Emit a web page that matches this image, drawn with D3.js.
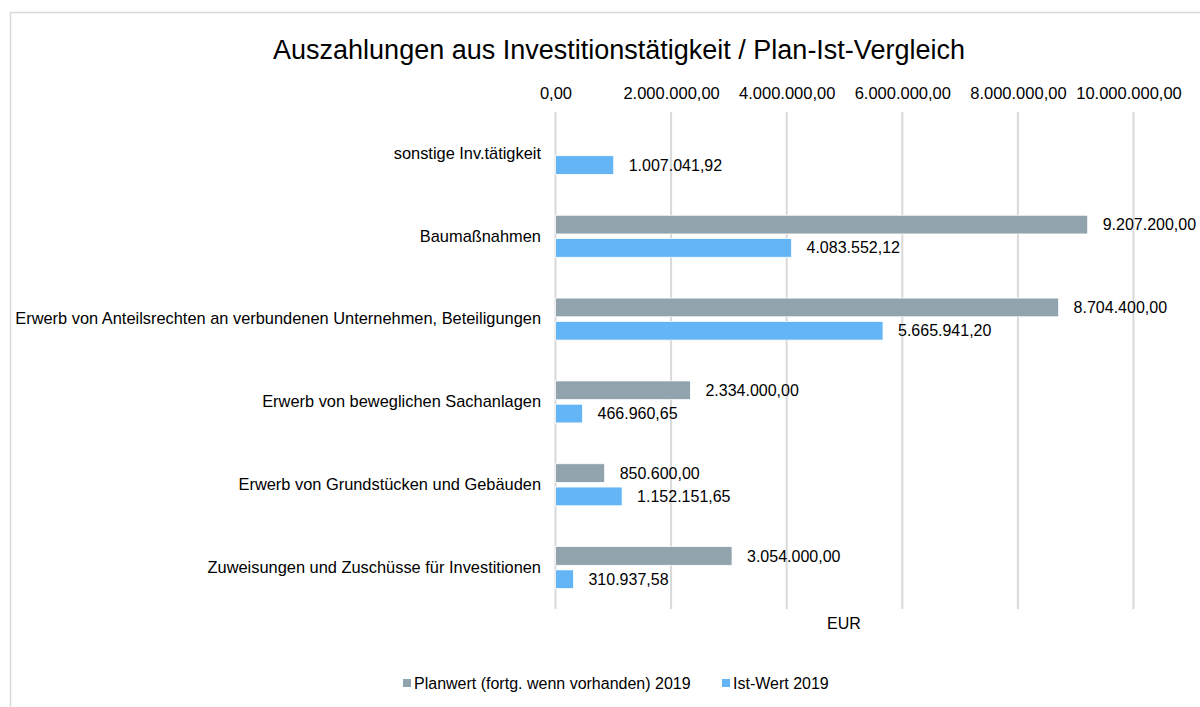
<!DOCTYPE html>
<html><head><meta charset="utf-8">
<script src="https://cdn.jsdelivr.net/npm/d3@7"></script>
<style>body{margin:0;background:#fff;} svg{display:block;font-family:"Liberation Sans",Arial,sans-serif;}</style>
</head><body>
<svg id="chart" width="1200" height="707"></svg>
<script>
const categories = ["sonstige Inv.tätigkeit","Baumaßnahmen","Erwerb von Anteilsrechten an verbundenen Unternehmen, Beteiligungen","Erwerb von beweglichen Sachanlagen","Erwerb von Grundstücken und Gebäuden","Zuweisungen und Zuschüsse für Investitionen"];
const seriesNames = ["Planwert (fortg. wenn vorhanden) 2019","Ist-Wert 2019"];
const planValues = [null, 9207200.00, 8704400.00, 2334000.00, 850600.00, 3054000.00];
const istValues = [1007041.92, 4083552.12, 5665941.20, 466960.65, 1152151.65, 310937.58];
const xTicks = [0, 2000000, 4000000, 6000000, 8000000, 10000000];
const colors = ["#91A4AD", "#64B5F6"];

const loc = d3.formatLocale({decimal: ",", thousands: ".", grouping: [3], currency: ["", " €"]});
const fmt = loc.format(",.2f");
const FS = 16;

const svg = d3.select("#chart");
svg.append("rect").attr("x",10.5).attr("y",12.5).attr("width",1200).attr("height",720)
  .attr("fill","#fff").attr("stroke","#d9d9d9").attr("stroke-width",1.5);

const x = d3.scaleLinear().domain([0, 10000000]).range([555.5, 1133.5]);
const y = d3.scaleBand().domain(categories).range([112, 609]).padding(0);
const inner = d3.scaleBand().domain([0,1]).range([y.bandwidth()/2 - 21, y.bandwidth()/2 + 21]).paddingInner(0.197);

svg.append("text").attr("x", 619).attr("y", 50).attr("dy","0.35em").attr("text-anchor","middle")
  .attr("font-size", 27).attr("fill","#000").text("Auszahlungen aus Investitionstätigkeit / Plan-Ist-Vergleich");

// gridlines
svg.append("g").selectAll("line").data(xTicks).join("line")
  .attr("x1", d=>x(d)).attr("x2", d=>x(d)).attr("y1", 112).attr("y2", 609)
  .attr("stroke", "#d9d9d9").attr("stroke-width", 2);

// top axis labels
const ax = svg.append("g").attr("transform","translate(0,93)")
  .call(d3.axisTop(x).tickValues(xTicks).tickFormat(fmt).tickSize(0).tickPadding(0));
ax.select(".domain").remove();
ax.selectAll("text").attr("font-size", 16.5).attr("fill","#000").attr("font-family","Liberation Sans, Arial, sans-serif")
  .attr("dy","0.35em")
  .attr("dx", d => d === 10000000 ? -5 : 0);

// category labels
const ay = svg.append("g").attr("transform","translate(555,0)")
  .call(d3.axisLeft(y).tickSize(0).tickPadding(14));
ay.select(".domain").remove();
ay.selectAll("text").attr("font-size", 16.4).attr("fill","#000").attr("font-family","Liberation Sans, Arial, sans-serif")
  .attr("dy","0.32em");

const rows = categories.map((c,i)=>({c, vals:[planValues[i], istValues[i]]}));
const g = svg.append("g");
rows.forEach(r=>{
  r.vals.forEach((v,k)=>{
    if (v === null) return;
    const yy = y(r.c) + inner(k);
    g.append("rect").attr("x", x(0)).attr("y", yy).attr("width", x(v)-x(0)).attr("height", inner.bandwidth())
      .attr("fill", colors[k]).attr("stroke","#fff").attr("stroke-width",0.75);
    g.append("text").attr("x", x(v)+15).attr("y", yy + inner.bandwidth()/2).attr("dy","0.35em")
      .attr("font-size", FS).attr("fill","#000").text(fmt(v));
  });
});

svg.append("text").attr("x", 844).attr("y", 623).attr("dy","0.35em").attr("text-anchor","middle")
  .attr("font-size", FS).attr("fill","#000").text("EUR");

// legend
const legX = [403, 722];
seriesNames.forEach((s,k)=>{
  svg.append("rect").attr("x", legX[k]).attr("y", 679).attr("width", 8).attr("height", 8).attr("fill", colors[k]);
  svg.append("text").attr("x", legX[k]+11).attr("y", 683).attr("dy","0.35em").attr("font-size",FS).attr("fill","#000").text(s);
});
</script>
</body></html>
